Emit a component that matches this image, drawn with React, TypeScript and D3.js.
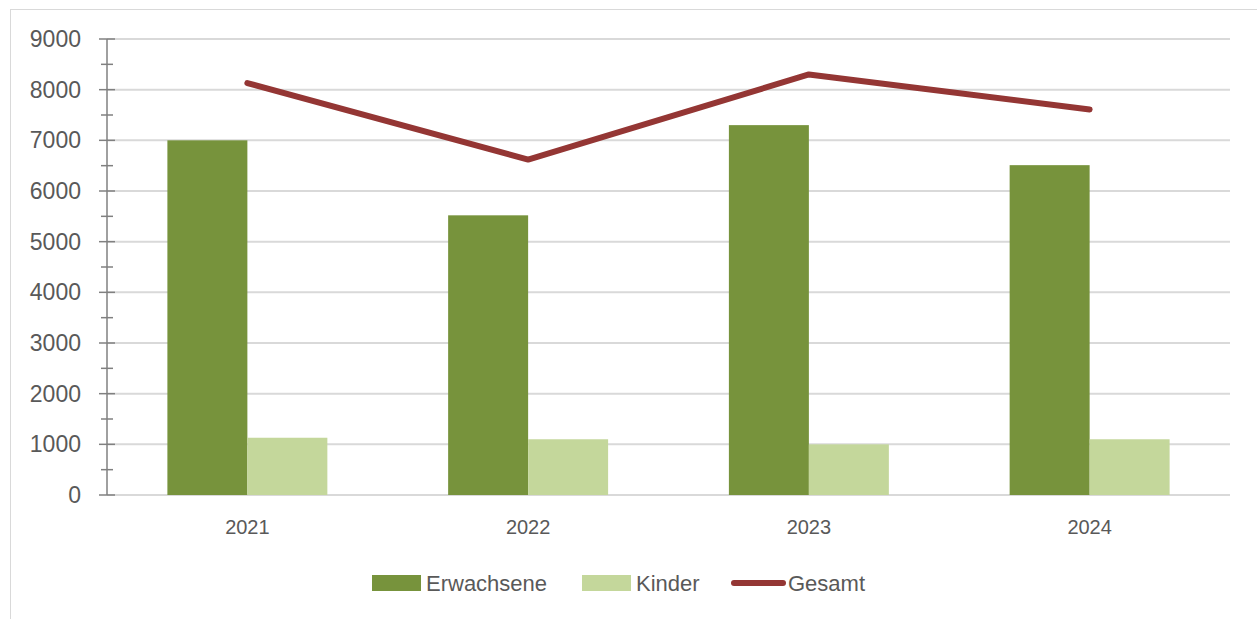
import React, { useEffect, useRef } from "react";
import * as d3 from "d3";

const years = ["2021", "2022", "2023", "2024"];
const erwachsene = [7000, 5520, 7300, 6510];
const kinder = [1130, 1100, 1000, 1100];
const gesamt = [8130, 6620, 8300, 7610];
const yTicks = [0, 1000, 2000, 3000, 4000, 5000, 6000, 7000, 8000, 9000];
const seriesNames = ["Erwachsene", "Kinder"];

const W = 1257;
const H = 619;
const FONT = "'Liberation Sans', Arial, sans-serif";

export default function App() {
  const ref = useRef<SVGSVGElement>(null);

  useEffect(() => {
    const svg = d3.select(ref.current);
    svg.selectAll("*").remove();

    // chart frame
    svg.append("rect")
      .attr("x", 10.5).attr("y", 9.5)
      .attr("width", W + 20).attr("height", H + 20)
      .attr("fill", "#fff").attr("stroke", "#d9d9d9").attr("stroke-width", 1);

    const left = 107, right = 1230, top = 39, bottom = 495;

    const x = d3.scaleBand().domain(years).range([left, right]).padding(0);
    const x1 = d3.scaleBand().domain(seriesNames).range([0, x.bandwidth()])
      .paddingInner(0).paddingOuter(0.755);
    const y = d3.scaleLinear().domain([0, 9000]).range([bottom, top]);

    // gridlines
    svg.append("g").selectAll("line")
      .data(yTicks)
      .enter().append("line")
      .attr("x1", left).attr("x2", right)
      .attr("y1", d => y(d)).attr("y2", d => y(d))
      .attr("stroke", "#d9d9d9").attr("stroke-width", 2);

    // bars
    const colors: Record<string, string> = { Erwachsene: "#77933c", Kinder: "#c4d79b" };
    const rows = years.map((yr, i) => ({ yr, vals: [erwachsene[i], kinder[i]] }));
    const grp = svg.append("g").selectAll("g")
      .data(rows)
      .enter().append("g")
      .attr("transform", d => "translate(" + x(d.yr) + ",0)");
    grp.selectAll("rect")
      .data(d => d.vals.map((v, k) => ({ key: seriesNames[k], v })))
      .enter().append("rect")
      .attr("x", d => x1(d.key)!)
      .attr("width", x1.bandwidth())
      .attr("y", d => y(d.v))
      .attr("height", d => bottom - y(d.v))
      .attr("fill", d => colors[d.key]);

    // y axis line + ticks
    const ax = svg.append("g").attr("stroke", "#808080");
    ax.append("line").attr("x1", left).attr("x2", left)
      .attr("y1", top).attr("y2", bottom).attr("stroke-width", 1.5);
    ax.selectAll(".major").data(yTicks).enter().append("line")
      .attr("x1", left - 8).attr("x2", left + 8)
      .attr("y1", d => y(d)).attr("y2", d => y(d)).attr("stroke-width", 1.5);
    ax.selectAll(".minor").data(yTicks.slice(1).map(d => d - 500)).enter().append("line")
      .attr("x1", left - 6).attr("x2", left + 6)
      .attr("y1", d => y(d)).attr("y2", d => y(d)).attr("stroke-width", 1.5);

    // y labels
    svg.append("g").selectAll("text")
      .data(yTicks)
      .enter().append("text")
      .attr("x", 81).attr("y", d => y(d))
      .attr("dy", "0.35em")
      .attr("text-anchor", "end")
      .attr("font-family", FONT).attr("font-size", 23)
      .attr("fill", "#595959")
      .text(d => d);

    // x labels
    svg.append("g").selectAll("text")
      .data(years)
      .enter().append("text")
      .attr("x", d => x(d)! + x.bandwidth() / 2)
      .attr("y", 534)
      .attr("text-anchor", "middle")
      .attr("font-family", FONT).attr("font-size", 20)
      .attr("fill", "#595959")
      .text(d => d);

    // line
    const line = d3.line<number>()
      .x((d, i) => x(years[i])! + x.bandwidth() / 2)
      .y(d => y(d));
    svg.append("path")
      .datum(gesamt)
      .attr("d", line)
      .attr("fill", "none")
      .attr("stroke", "#943634").attr("stroke-width", 6)
      .attr("stroke-linecap", "round").attr("stroke-linejoin", "round");

    // legend
    const lg = svg.append("g").attr("font-family", FONT).attr("font-size", 22).attr("fill", "#595959");
    lg.append("rect").attr("x", 372).attr("y", 575).attr("width", 49).attr("height", 16).attr("fill", colors.Erwachsene);
    lg.append("text").attr("x", 426).attr("y", 591).text("Erwachsene");
    lg.append("rect").attr("x", 582).attr("y", 575).attr("width", 49).attr("height", 16).attr("fill", colors.Kinder);
    lg.append("text").attr("x", 636).attr("y", 591).text("Kinder");
    lg.append("line").attr("x1", 734).attr("x2", 783).attr("y1", 583).attr("y2", 583)
      .attr("stroke", "#943634").attr("stroke-width", 6).attr("stroke-linecap", "round");
    lg.append("text").attr("x", 788).attr("y", 591).text("Gesamt");
  }, []);

  return (
    <svg ref={ref} width={W} height={H}
      style={{ position: "absolute", left: 0, top: 0, display: "block" }} />
  );
}
